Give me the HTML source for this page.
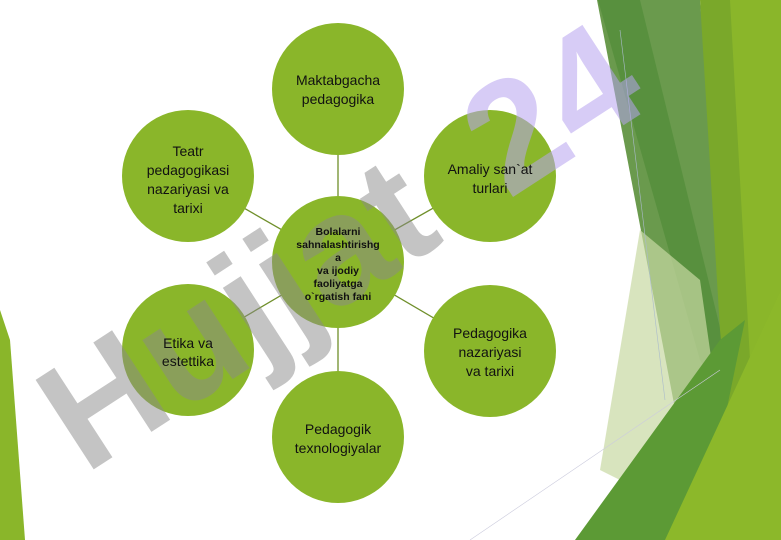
<!DOCTYPE html>
<html><head><style>
body{margin:0;width:781px;height:540px;overflow:hidden;background:#fff;font-family:"Liberation Sans",sans-serif}
svg{position:absolute;left:0;top:0}
</style></head><body>
<svg width="781" height="540" viewBox="0 0 781 540">
<polygon points="597,0 700,0 745,540 700,540" fill="#5a8f3a" opacity="0.9"/>
<polygon points="598,0 640,0 745,430 700,360" fill="#4d8a35" opacity="0.6"/>
<polygon points="700,0 781,0 781,540 740,540 720,330" fill="#7aa82a"/>
<polygon points="730,0 781,0 781,540 760,540" fill="#8ab62a"/>
<polygon points="640,230 700,280 720,420 660,500 600,470" fill="#c7d9a3" opacity="0.7"/>
<polygon points="575,540 720,340 745,320 700,540" fill="#5c9a35"/>
<polygon points="665,540 781,290 781,540" fill="#8cb82a"/>
<line x1="620" y1="30" x2="665" y2="400" stroke="#aabbcc" stroke-width="0.6"/>
<line x1="470" y1="540" x2="720" y2="370" stroke="#ccd" stroke-width="0.6"/>
<polygon points="0,310 10,340 25,540 0,540" fill="#8ab62a"/>
<g stroke="#6f8f2a" stroke-width="1.3">
<line x1="338" y1="262" x2="338" y2="89"/>
<line x1="338" y1="262" x2="490" y2="176"/>
<line x1="338" y1="262" x2="490" y2="351"/>
<line x1="338" y1="262" x2="338" y2="437"/>
<line x1="338" y1="262" x2="188" y2="350"/>
<line x1="338" y1="262" x2="188" y2="176"/>
</g>
<g fill="#8ab62a">
<circle cx="338" cy="89" r="66"/>
<circle cx="490" cy="176" r="66"/>
<circle cx="490" cy="351" r="66"/>
<circle cx="338" cy="437" r="66"/>
<circle cx="188" cy="350" r="66"/>
<circle cx="188" cy="176" r="66"/>
<circle cx="338" cy="262" r="66"/>
</g>
<g transform="translate(85,475) rotate(-33)" font-family="Liberation Sans" font-weight="bold" font-size="155">
<text x="0" y="0" fill="#8a8a8a" opacity="0.5">Hujjat</text>
<text x="505" y="0" fill="#b8a4f0" opacity="0.55">24</text>
</g>
<g font-family="Liberation Sans" font-size="14" fill="#111" text-anchor="middle">
<text x="338" y="85">Maktabgacha</text><text x="338" y="104">pedagogika</text>
<text x="490" y="174">Amaliy san`at</text><text x="490" y="193">turlari</text>
<text x="490" y="338">Pedagogika</text><text x="490" y="357">nazariyasi</text><text x="490" y="376">va tarixi</text>
<text x="338" y="434">Pedagogik</text><text x="338" y="453">texnologiyalar</text>
<text x="188" y="348">Etika va</text><text x="188" y="366">estettika</text>
<text x="188" y="156">Teatr</text><text x="188" y="175">pedagogikasi</text><text x="188" y="194">nazariyasi va</text><text x="188" y="213">tarixi</text>
</g>
<g font-family="Liberation Sans" font-size="10.5" font-weight="bold" fill="#111" text-anchor="middle">
<text x="338" y="235">Bolalarni</text><text x="338" y="248">sahnalashtirishg</text><text x="338" y="261">a</text>
<text x="338" y="274">va ijodiy</text><text x="338" y="287">faoliyatga</text><text x="338" y="300">o`rgatish fani</text>
</g>
</svg>
</body></html>
